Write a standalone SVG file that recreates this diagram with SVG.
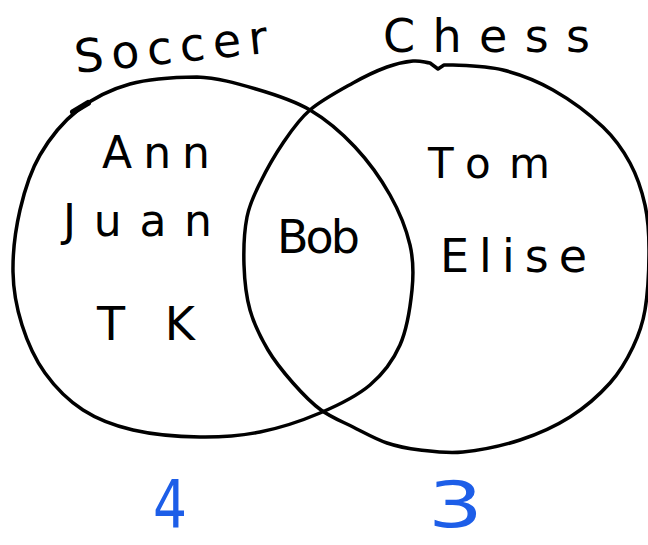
<svg xmlns="http://www.w3.org/2000/svg" width="648" height="545" viewBox="0 0 648 545">
<style>
.ring{fill:none;stroke:#000;stroke-width:3.5;stroke-linejoin:round;stroke-linecap:round}
.hand{font-family:"DejaVu Sans","Liberation Sans",sans-serif;fill:#000}
.count{font-family:"DejaVu Sans","Liberation Sans",sans-serif;fill:#1d5ee8}
</style>
<rect width="648" height="545" fill="#fff"/>
<g id="soccer">
<path class="ring" d="M197 77 C218 77.8 237.2 83.5 256 89 C274.8 94.5 293.5 100.3 310 110 C326.5 119.7 341.7 132.8 355 147 C368.3 161.2 380.8 178.7 390 195 C399.2 211.3 406.3 229.2 410 245 C413.7 260.8 413.7 273.3 412 290 C410.3 306.7 407 329.2 400 345 C393 360.8 383.3 373.7 370 385 C356.7 396.3 338.3 405.2 320 413 C301.7 420.8 280 428 260 432 C240 436 221.2 437.3 200 437 C178.8 436.7 152.5 434.5 133 430 C113.5 425.5 97.7 419.5 83 410 C68.3 400.5 55.2 387.2 45 373 C34.8 358.8 27.3 341.8 22 325 C16.7 308.2 13.3 291.2 13 272 C12.7 252.8 15.5 229.5 20 210 C24.5 190.5 30.3 171.7 40 155 C49.7 138.3 63 121.8 78 110 C93 98.2 110.2 89.5 130 84 C149.8 78.5 176 77.2 197 77 Z"/>
<path d="M73 112 L88 103" stroke="#000" stroke-width="6" stroke-linecap="round" fill="none"/>
<text class="hand" x="76" y="73" font-size="46" textLength="194" lengthAdjust="spacing" transform="rotate(-6 76 73)">Soccer</text>
</g>
<g id="chess">
<path class="ring" d="M453 65 C461 65.5 486.3 65.8 503 70 C519.7 74.2 536.3 80.5 553 90 C569.7 99.5 590.2 114.8 603 127 C615.8 139.2 623 150 630 163 C637 176 641.8 190.5 645 205 C648.2 219.5 649 232.5 649 250 C649 267.5 647.7 293.8 645 310 C642.3 326.2 638.8 334.8 633 347 C627.2 359.2 620.5 371.3 610 383 C599.5 394.7 585 407.5 570 417 C555 426.5 537.8 434.2 520 440 C502.2 445.8 479.7 450.3 463 452 C446.3 453.7 432.7 451.5 420 450 C407.3 448.5 398.2 446.8 387 443 C375.8 439.2 364 432.5 353 427 C342 421.5 331 417.3 321 410 C311 402.7 301.8 393 293 383 C284.2 373 275.2 362.2 268 350 C260.8 337.8 254 324.2 250 310 C246 295.8 244.5 280.5 244 265 C243.5 249.5 244.3 230.7 247 217 C249.7 203.3 254 195.3 260 183 C266 170.7 274.7 155.2 283 143 C291.3 130.8 298.3 120 310 110 C321.7 100 340.2 90.2 353 83 C365.8 75.8 377 70.7 387 67 C397 63.3 405.8 61.7 413 61 C420.2 60.3 424.3 62.3 430 63 L438 69 L444 65 L453 65"/>
<text class="hand" x="383" y="52" font-size="46" textLength="207" lengthAdjust="spacing">Chess</text>
</g>
<g id="soccer-only">
<text class="hand" x="102" y="168" font-size="44" textLength="108" lengthAdjust="spacing">Ann</text>
<text class="hand" x="63" y="236" font-size="44" textLength="149" lengthAdjust="spacing">Juan</text>
<text class="hand" x="97" y="340" font-size="46" textLength="98" lengthAdjust="spacing">TK</text>
</g>
<g id="both">
<text class="hand" x="277" y="253" font-size="46" textLength="83" lengthAdjust="spacing">Bob</text>
</g>
<g id="chess-only">
<text class="hand" x="428" y="178" font-size="42" textLength="122" lengthAdjust="spacing">Tom</text>
<text class="hand" x="440" y="272" font-size="46" textLength="147" lengthAdjust="spacing">Elise</text>
</g>
<g id="counts">
<text class="count" x="153" y="527" font-size="66" textLength="34" lengthAdjust="spacingAndGlyphs">4</text>
<text class="count" x="428" y="527" font-size="64" textLength="55" lengthAdjust="spacingAndGlyphs">3</text>
</g>
</svg>
